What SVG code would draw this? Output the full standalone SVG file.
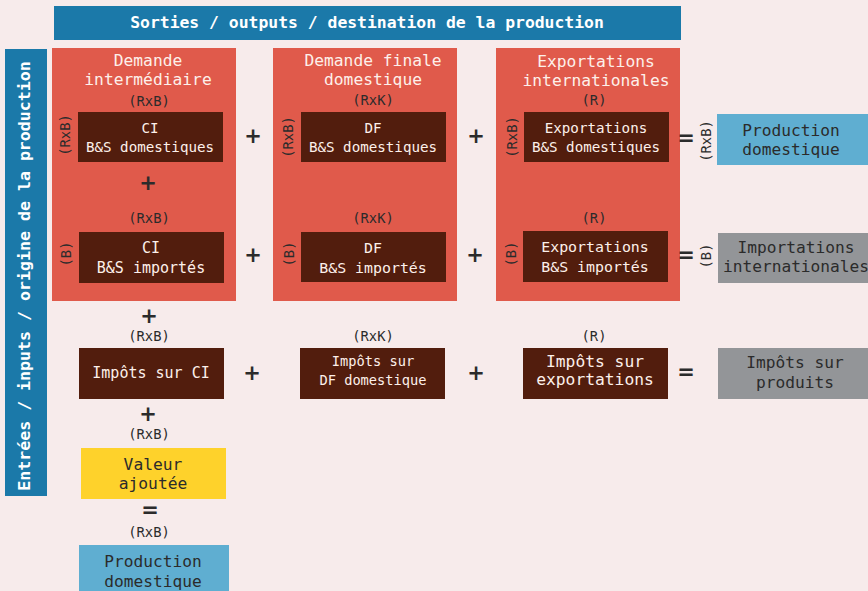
<svg xmlns="http://www.w3.org/2000/svg" width="868" height="591" viewBox="0 0 868 591">
<style>
text{font-family:"DejaVu Sans Mono","Liberation Mono",monospace;text-anchor:middle}
.bar{fill:#1b79a9}
.red{fill:#e05a4b}
.dk{fill:#521d0d}
.lb{fill:#5faed1}
.gr{fill:#939598}
.ye{fill:#fed22b}
.tb{fill:#ffffff;font-weight:bold;font-size:16.4px}
.hd{fill:#fdf0ea;font-size:16.3px}
.dim{fill:#2b2b2b;font-size:13.8px}
.wt{fill:#fdf0ea}
.bt{fill:#2b2b2b;font-size:16.2px}
.op{font-family:"DejaVu Sans",sans-serif;font-weight:bold;font-size:21px;fill:#2b2b2b;dominant-baseline:central}
</style>
<rect width="868" height="591" fill="#f7ebeb"/>
<g id="title-top">
<rect class="bar" x="54" y="6" width="627" height="34"/>
<text class="tb" x="367" y="28">Sorties / outputs / destination de la production</text>
</g>
<g id="title-left">
<rect class="bar" x="5" y="49" width="42" height="447"/>
<text class="tb" transform="translate(30,276) rotate(-90)" x="0" y="0" style="font-size:16.6px">Entrées / inputs / origine de la production</text>
</g>
<g id="col-di">
<rect class="red" x="52" y="48" width="184" height="253"/>
<text class="hd" x="148" y="66">Demande</text>
<text class="hd" x="148" y="85">intermédiaire</text>
<text class="dim" x="149" y="106">(RxB)</text>
<text class="dim" x="149" y="223">(RxB)</text>
</g>
<g id="col-df">
<rect class="red" x="273" y="48" width="184" height="253"/>
<text class="hd" x="373" y="66">Demande finale</text>
<text class="hd" x="373" y="85">domestique</text>
<text class="dim" x="373" y="105">(RxK)</text>
<text class="dim" x="373" y="223">(RxK)</text>
</g>
<g id="col-exp">
<rect class="red" x="496" y="48" width="184" height="253"/>
<text class="hd" x="596" y="67">Exportations</text>
<text class="hd" x="596" y="86">internationales</text>
<text class="dim" x="594" y="105">(R)</text>
<text class="dim" x="594" y="223">(R)</text>
</g>
<g id="ci-dom">
<rect class="dk" x="78" y="112" width="145" height="50"/>
<text class="wt" x="150" y="133" style="font-size:14.2px">CI</text>
<text class="wt" x="150" y="152" style="font-size:14.2px">B&amp;S domestiques</text>
<text class="dim" transform="translate(70,135) rotate(-90)">(RxB)</text>
</g>
<g id="df-dom">
<rect class="dk" x="301" y="112" width="145" height="50"/>
<text class="wt" x="373" y="133" style="font-size:14.2px">DF</text>
<text class="wt" x="373" y="152" style="font-size:14.2px">B&amp;S domestiques</text>
<text class="dim" transform="translate(293,137) rotate(-90)">(RxB)</text>
</g>
<g id="exp-dom">
<rect class="dk" x="524" y="112" width="145" height="50"/>
<text class="wt" x="596" y="133" style="font-size:14.2px">Exportations</text>
<text class="wt" x="596" y="152" style="font-size:14.2px">B&amp;S domestiques</text>
<text class="dim" transform="translate(517,137) rotate(-90)">(RxB)</text>
</g>
<g id="prod-dom-right">
<rect class="lb" x="717" y="114" width="151" height="51"/>
<text class="bt" x="791" y="136">Production</text>
<text class="bt" x="791" y="155">domestique</text>
<text class="dim" transform="translate(711,141) rotate(-90)">(RxB)</text>
</g>
<g id="ci-imp">
<rect class="dk" x="79" y="232" width="145" height="51"/>
<text class="wt" x="151" y="253" style="font-size:15px">CI</text>
<text class="wt" x="151" y="273" style="font-size:15px">B&amp;S importés</text>
<text class="dim" transform="translate(71,254) rotate(-90)">(B)</text>
</g>
<g id="df-imp">
<rect class="dk" x="301" y="232" width="145" height="50"/>
<text class="wt" x="373" y="253" style="font-size:14.9px">DF</text>
<text class="wt" x="373" y="273" style="font-size:14.9px">B&amp;S importés</text>
<text class="dim" transform="translate(294,254) rotate(-90)">(B)</text>
</g>
<g id="exp-imp">
<rect class="dk" x="523" y="231" width="145" height="51"/>
<text class="wt" x="595" y="252" style="font-size:14.9px">Exportations</text>
<text class="wt" x="595" y="272" style="font-size:14.9px">B&amp;S importés</text>
<text class="dim" transform="translate(516,254) rotate(-90)">(B)</text>
</g>
<g id="imp-int">
<rect class="gr" x="718" y="233" width="150" height="50"/>
<text class="bt" x="796" y="253">Importations</text>
<text class="bt" x="796" y="272">internationales</text>
<text class="dim" transform="translate(711,256) rotate(-90)">(B)</text>
</g>
<g id="tax-ci">
<rect class="dk" x="79" y="348" width="145" height="51"/>
<text class="wt" x="151" y="378" style="font-size:15px">Impôts sur CI</text>
<text class="dim" x="149" y="341">(RxB)</text>
</g>
<g id="tax-df">
<rect class="dk" x="300" y="348" width="145" height="51"/>
<text class="wt" x="373" y="366" style="font-size:13.7px">Impôts sur</text>
<text class="wt" x="373" y="385" style="font-size:13.7px">DF domestique</text>
<text class="dim" x="373" y="341">(RxK)</text>
</g>
<g id="tax-exp">
<rect class="dk" x="523" y="348" width="145" height="51"/>
<text class="wt" x="595" y="367" style="font-size:16.3px">Impôts sur</text>
<text class="wt" x="595" y="385" style="font-size:16.3px">exportations</text>
<text class="dim" x="594" y="341">(R)</text>
</g>
<g id="tax-prod">
<rect class="gr" x="718" y="348" width="150" height="51"/>
<text class="bt" x="795" y="368">Impôts sur</text>
<text class="bt" x="795" y="388">produits</text>
</g>
<g id="va">
<rect class="ye" x="81" y="448" width="145" height="51"/>
<text class="bt" x="153" y="470" style="font-size:16.3px">Valeur</text>
<text class="bt" x="153" y="489" style="font-size:16.3px">ajoutée</text>
<text class="dim" x="149" y="439">(RxB)</text>
</g>
<g id="prod-dom-bottom">
<rect class="lb" x="79" y="545" width="150" height="50"/>
<text class="bt" x="153" y="567">Production</text>
<text class="bt" x="153" y="587">domestique</text>
<text class="dim" x="149" y="537">(RxB)</text>
</g>
<g id="operators">
<text class="op" x="253" y="136">+</text>
<text class="op" x="476" y="136">+</text>
<text class="op" x="148" y="183">+</text>
<text class="op" x="253" y="255">+</text>
<text class="op" x="475" y="255">+</text>
<text class="op" x="149" y="316">+</text>
<text class="op" x="252" y="373">+</text>
<text class="op" x="476" y="373">+</text>
<text class="op" x="148" y="414">+</text>
<text class="op" x="686" y="138">=</text>
<text class="op" x="686" y="255">=</text>
<text class="op" x="686" y="372">=</text>
<text class="op" x="150" y="510">=</text>
</g>
</svg>
